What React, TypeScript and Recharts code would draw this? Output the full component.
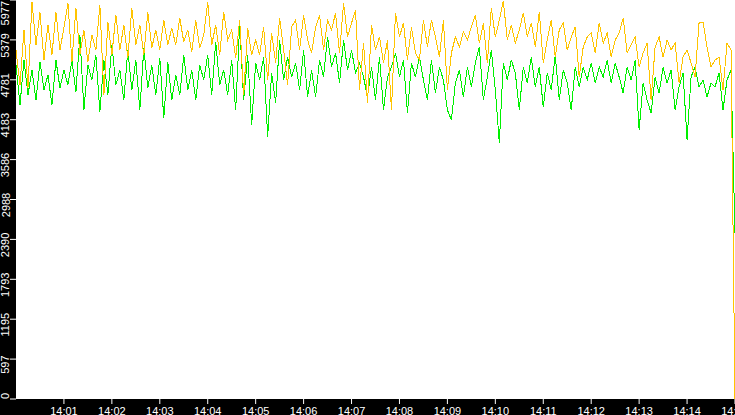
import { LineChart, Line, XAxis, YAxis, CartesianGrid } from 'recharts';

// one sample every 5 seconds, 14:00:00 -> 14:15:00
const SAMPLE_SECONDS = 5;

const yellowSeries = [
  5228, 4704, 5528, 4659, 5947, 5303, 5797, 5078, 5602, 5153,
  5797, 5228, 5558, 5932, 5048, 5857, 5153, 5528, 5048, 5453,
  5228, 5902, 4554, 5647, 5153, 5752, 5228, 5602, 5108, 5857,
  5303, 5602, 5153, 5797, 5258, 5528, 5228, 5677, 5303, 5558,
  5303, 5707, 5348, 5528, 5198, 5677, 5258, 5453, 5947, 5303,
  5602, 5153, 5797, 5378, 5528, 5108, 5677, 4554, 5558, 5153,
  5378, 5153, 5573, 4779, 5483, 5033, 5707, 5228, 4704, 5573,
  5677, 5228, 5752, 5378, 5183, 5573, 5752, 5228, 5677, 5528,
  5782, 5183, 5932, 5423, 5632, 5827, 4629, 5333, 4434, 5602,
  5228, 5423, 5033, 5378, 4329, 5782, 5423, 5632, 5078, 5573,
  5183, 5078, 5677, 5273, 5677, 5423, 5123, 5677, 4629, 5183,
  5423, 5273, 5498, 5378, 5573, 5752, 5333, 5632, 5033, 5857,
  5423, 5677, 5962, 5378, 5602, 5333, 5528, 5782, 5423, 5632,
  5273, 5797, 5033, 5378, 5677, 5123, 5528, 5632, 5228, 5423,
  5573, 4824, 5273, 5423, 5483, 5183, 5632, 5333, 5483, 5123,
  5378, 5483, 5707, 5183, 5303, 5423, 4973, 5183, 5333, 4479,
  5273, 5423, 5123, 5378, 5228, 5333, 4734, 5123, 5228, 5033,
  4824, 5632, 5647, 5273, 4973, 5078, 5123, 4629, 5333, 5228,
  0,
];

const greenSeries = [
  5003, 4404, 5078, 4554, 4929, 4479, 5048, 4629, 4854, 4404,
  5078, 4659, 4929, 4704, 5078, 4599, 5453, 4329, 5003, 4779,
  5153, 4299, 5078, 4554, 5303, 4704, 4929, 4479, 5228, 4629,
  5078, 4329, 5258, 4659, 5003, 4554, 5108, 4209, 5048, 4479,
  4854, 4554, 5153, 4629, 4929, 4479, 5003, 4779, 5153, 4554,
  5348, 4704, 4929, 4554, 5078, 4329, 5602, 4479, 5153, 4105,
  5033, 4779, 5123, 3925, 4884, 4434, 5378, 4779, 5123, 4824,
  5033, 4629, 5228, 4524, 4929, 4524, 5078, 4824, 5423, 4973,
  5183, 4734, 5378, 4929, 5228, 4884, 5033, 4824, 4524, 4973,
  4479, 5123, 4329, 4824, 4973, 5183, 4824, 5078, 4284, 5033,
  4824, 5123, 4779, 4479, 5078, 4584, 4973, 4779, 4329, 4180,
  4734, 4929, 4524, 4973, 4674, 5033, 5273, 4479, 4824, 5228,
  4629, 3835, 5033, 4779, 5078, 4884, 4329, 4973, 4734, 5123,
  4674, 4973, 4374, 4884, 4629, 5153, 4479, 4929, 4734, 4329,
  4973, 4674, 4973, 4779, 5033, 4734, 4973, 4824, 5078, 4734,
  5033, 4824, 4584, 4973, 4779, 5078, 4030, 4734, 4479, 4284,
  4824, 4584, 4973, 4734, 4929, 4329, 4674, 4884, 3880, 4824,
  4973, 4674, 4779, 4524, 4734, 4674, 4884, 4329, 4779, 4929,
  2480,
];

const xTickSeconds = [60, 120, 180, 240, 300, 360, 420, 480, 540, 600, 660, 720, 780, 840, 900];
const xTickLabels = ['14:01', '14:02', '14:03', '14:04', '14:05', '14:06', '14:07', '14:08', '14:09', '14:10', '14:11', '14:12', '14:13', '14:14', '14:15'];
const yTicks = [0, 597.7, 1195.4, 1793.1, 2390.8, 2988.5, 3586.2, 4183.9, 4781.6, 5379.3, 5977];

const W = 735;
const H = 415;
const AXIS_W = 16;
const AXIS_H = 16;
const PLOT_BOTTOM = H - AXIS_H;
const FONT = '"Liberation Sans", Arial, sans-serif';

const data = yellowSeries.map((v, i) => ({
  t: i * SAMPLE_SECONDS,
  yellow: v,
  green: greenSeries[i],
}));

function YTick(props: any) {
  const { y, payload } = props;
  const label = String(Math.floor(payload.value));
  const half = label.length * 3.05;
  // labels sit a little below their tick, but never leave the plot height
  const cy = Math.min(Math.max(y + 5.5, half + 1), PLOT_BOTTOM - half);
  const tx = 9.5;
  return (
    <text
      x={tx}
      y={cy}
      transform={`rotate(-90, ${tx}, ${cy})`}
      textAnchor="middle"
      fill="#ffffff"
      fontSize={11}
      fontFamily={FONT}
    >
      {label}
    </text>
  );
}

export default function App() {
  return (
    <div style={{ position: 'fixed', left: 0, top: 0, width: W, height: H, background: '#000' }}>
      <LineChart width={W} height={H} data={data} margin={{ top: 0, right: 0, left: 0, bottom: 0 }}>
        <CartesianGrid fill="#ffffff" horizontal={false} vertical={false} />
        <XAxis
          dataKey="t"
          type="number"
          domain={[0, 900]}
          ticks={xTickSeconds}
          interval={0}
          height={AXIS_H}
          axisLine={false}
          tickSize={5}
          tickMargin={3}
          tickLine={{ stroke: '#ffffff' }}
          tick={{ fill: '#ffffff', fontSize: 11, fontFamily: FONT }}
          tickFormatter={(v: number) => xTickLabels[xTickSeconds.indexOf(v)]}
        />
        <YAxis
          type="number"
          domain={[0, 5977]}
          ticks={yTicks}
          interval={0}
          width={AXIS_W}
          axisLine={false}
          tickSize={6}
          tickLine={{ stroke: '#ffffff' }}
          tick={<YTick />}
        />
        <Line
          dataKey="green"
          stroke="#00f000"
          strokeWidth={1}
          dot={false}
          shapeRendering="crispEdges"
          isAnimationActive={false}
        />
        <Line
          dataKey="yellow"
          stroke="#ffc400"
          strokeWidth={1}
          dot={false}
          shapeRendering="crispEdges"
          isAnimationActive={false}
        />
      </LineChart>
    </div>
  );
}
